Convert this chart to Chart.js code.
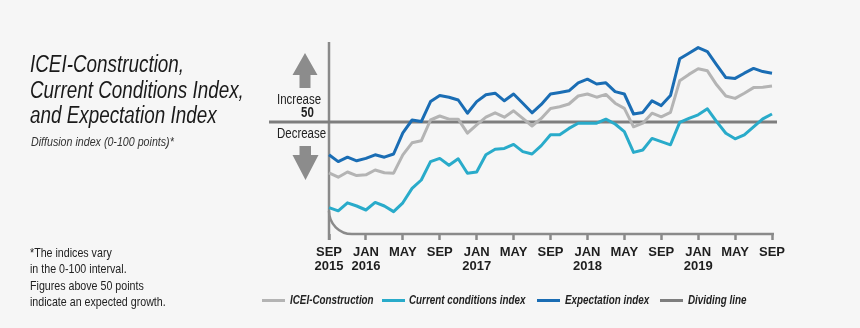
<!DOCTYPE html>
<html>
<head>
<meta charset="utf-8">
<script src="https://cdn.jsdelivr.net/npm/chart.js@4.4.1/dist/chart.umd.min.js"></script>
<style>
  html, body { margin: 0; padding: 0; background: #f6f6f6; }
  #wrap { position: relative; width: 860px; height: 328px; overflow: hidden;
          font-family: "Liberation Sans", Arial, sans-serif; color: #1e1e1e; }
  #chart { position: absolute; left: 0; top: 0; }
  /* narrow look: Liberation Sans squeezed like Arial Narrow */
  .t { position: absolute; white-space: nowrap; transform: scaleX(0.82); transform-origin: 0 0; }
  #title { left: 30px; top: 52px; font-size: 23px; line-height: 25.5px; font-style: italic; color: #1a1a1a; }
  #sub { left: 31px; top: 135px; font-size: 13px; line-height: 13px; font-style: italic; color: #333; }
  #note { left: 30px; top: 245px; font-size: 13px; line-height: 16.3px; color: #222; }
  .side { font-size: 14px; line-height: 14px; color: #222; }
  .lg { font-size: 12px; line-height: 12px; font-weight: bold; font-style: italic; color: #222; top: 294px; }
  .sw { position: absolute; width: 23px; height: 3px; top: 298.5px; }
</style>
</head>
<body>
<div id="wrap">
  <canvas id="chart" width="860" height="328"></canvas>
  <div class="t" id="title">ICEI-Construction,<br>Current Conditions Index,<br>and Expectation Index</div>
  <div class="t" id="sub">Diffusion index (0-100 points)*</div>
  <div class="t" id="note">*The indices vary<br>in the 0-100 interval.<br>Figures above 50 points<br>indicate an expected growth.</div>
  <div class="t side" style="left:277px; top:91.5px;">Increase</div>
  <div class="t side" style="left:300.5px; top:105px; font-weight:bold;">50</div>
  <div class="t side" style="left:277px; top:126px;">Decrease</div>
  <div id="legend"></div>
</div>
<script>
// monthly categories, Sep 2015 - Sep 2019
const months = [
  "2015-09","2015-10","2015-11","2015-12",
  "2016-01","2016-02","2016-03","2016-04","2016-05","2016-06","2016-07","2016-08","2016-09","2016-10","2016-11","2016-12",
  "2017-01","2017-02","2017-03","2017-04","2017-05","2017-06","2017-07","2017-08","2017-09","2017-10","2017-11","2017-12",
  "2018-01","2018-02","2018-03","2018-04","2018-05","2018-06","2018-07","2018-08","2018-09","2018-10","2018-11","2018-12",
  "2019-01","2019-02","2019-03","2019-04","2019-05","2019-06","2019-07","2019-08","2019-09"
];

// labelled ticks on the x axis
const tickMonths = ["2015-09","2016-01","2016-05","2016-09","2017-01","2017-05","2017-09",
                    "2018-01","2018-05","2018-09","2019-01","2019-05","2019-09"];
const tickLabels = [["SEP","2015"],["JAN","2016"],["MAY"],["SEP"],["JAN","2017"],["MAY"],["SEP"],
                    ["JAN","2018"],["MAY"],["SEP"],["JAN","2019"],["MAY"],["SEP"]];

const iceiConstruction = [
  37.3, 36.2, 37.5, 36.6, 36.8, 38.0, 37.3, 37.2, 41.8, 44.8, 45.3, 50.5, 51.5, 50.7, 50.7, 47.2,
  49.3, 51.2, 52.3, 51.2, 52.8, 50.9, 49.0, 50.9, 53.4, 53.8, 54.5, 56.5,
  57.0, 56.2, 56.9, 54.7, 53.4, 48.8, 49.7, 52.2, 51.3, 52.4, 60.3, 61.9,
  63.3, 62.8, 59.3, 56.5, 55.9, 57.2, 58.6, 58.7, 59.0
];
const currentConditions = [
  28.6, 27.8, 29.8, 29.0, 28.0, 29.9, 29.0, 27.6, 29.8, 33.4, 35.5, 40.1, 40.9, 39.2, 40.8, 37.2,
  37.5, 41.8, 43.2, 43.4, 44.4, 42.6, 42.0, 44.1, 46.8, 46.8, 48.4, 49.7,
  49.7, 49.7, 50.7, 49.5, 47.6, 42.4, 43.0, 45.9, 45.1, 44.3, 49.9, 50.9,
  51.8, 53.3, 50.1, 47.2, 45.8, 46.8, 48.8, 50.8, 52.0
];
const expectation = [
  41.8, 40.1, 41.2, 40.3, 40.9, 41.8, 41.2, 42.0, 47.3, 50.5, 50.1, 55.1, 56.6, 56.2, 55.5, 52.2,
  55.1, 56.8, 57.2, 55.3, 57.0, 54.7, 52.3, 54.4, 57.0, 57.4, 57.8, 59.8,
  60.7, 59.5, 59.8, 57.6, 57.0, 52.0, 52.4, 55.3, 54.1, 56.6, 65.8, 67.2,
  68.6, 67.6, 64.3, 61.1, 60.9, 62.2, 63.4, 62.6, 62.2
];
const dividingValue = 50;

const colors = {
  icei: "#b4b4b4",
  current: "#29abca",
  expectation: "#1a6db4",
  dividing: "#7e7e7e",
  axis: "#8a8a8a"
};

const legendItems = [
  { label: "ICEI-Construction", color: colors.icei, swatchX: 262, textX: 290 },
  { label: "Current conditions index", color: colors.current, swatchX: 382, textX: 409 },
  { label: "Expectation index", color: colors.expectation, swatchX: 537, textX: 565 },
  { label: "Dividing line", color: colors.dividing, swatchX: 660, textX: 688 }
];

// legend as html
const legendEl = document.getElementById("legend");
legendItems.forEach(item => {
  const sw = document.createElement("div");
  sw.className = "sw";
  sw.style.left = item.swatchX + "px";
  sw.style.background = item.color;
  legendEl.appendChild(sw);
  const txt = document.createElement("div");
  txt.className = "t lg";
  txt.style.left = item.textX + "px";
  txt.textContent = item.label;
  legendEl.appendChild(txt);
});

// axes, dividing line and arrows
const decorPlugin = {
  id: "decor",
  beforeDatasetsDraw(chart) {
    const { ctx, chartArea } = chart;
    const y50 = chart.scales.y.getPixelForValue(dividingValue);
    const left = chartArea.left, bottom = chartArea.bottom;
    ctx.save();
    ctx.lineCap = "butt";

    // vertical axis
    ctx.strokeStyle = colors.axis;
    ctx.lineWidth = 2.5;
    ctx.beginPath();
    ctx.moveTo(left, chartArea.top);
    ctx.lineTo(left, bottom + 6);
    ctx.stroke();

    // rounded corner and bottom axis line
    const r = 23;
    ctx.beginPath();
    ctx.moveTo(left, bottom - r);
    ctx.arc(left + r, bottom - r, r, Math.PI, Math.PI / 2, true);
    ctx.lineTo(chartArea.right + 2, bottom);
    ctx.stroke();

    // dividing line at 50
    ctx.strokeStyle = colors.dividing;
    ctx.lineWidth = 3;
    ctx.beginPath();
    ctx.moveTo(269, y50);
    ctx.lineTo(chartArea.right + 5, y50);
    ctx.stroke();

    // arrows
    ctx.fillStyle = "#8c8c8c";
    ctx.beginPath();
    ctx.moveTo(305, 53);
    ctx.lineTo(317.5, 75);
    ctx.lineTo(310.5, 75);
    ctx.lineTo(310.5, 88);
    ctx.lineTo(299.5, 88);
    ctx.lineTo(299.5, 75);
    ctx.lineTo(292.5, 75);
    ctx.closePath();
    ctx.fill();

    ctx.beginPath();
    ctx.moveTo(299.5, 146);
    ctx.lineTo(311, 146);
    ctx.lineTo(311, 155);
    ctx.lineTo(318.5, 155);
    ctx.lineTo(305.5, 180);
    ctx.lineTo(292.5, 155);
    ctx.lineTo(299.5, 155);
    ctx.closePath();
    ctx.fill();
    ctx.restore();
  }
};

const lineStyle = { borderWidth: 3, pointRadius: 0, tension: 0, borderJoinStyle: "round", fill: false };

new Chart(document.getElementById("chart").getContext("2d"), {
  type: "line",
  data: {
    labels: months,
    datasets: [
      { label: "ICEI-Construction", data: iceiConstruction, borderColor: colors.icei, ...lineStyle },
      { label: "Current conditions index", data: currentConditions, borderColor: colors.current, ...lineStyle },
      { label: "Expectation index", data: expectation, borderColor: colors.expectation, ...lineStyle }
    ]
  },
  options: {
    responsive: false,
    animation: false,
    events: [],
    layout: { padding: { left: 329, right: 88, top: 42, bottom: 54 } },
    plugins: { legend: { display: false }, tooltip: { enabled: false } },
    scales: {
      x: {
        type: "category",
        offset: false,
        border: { display: false },
        grid: {
          display: true,
          drawOnChartArea: false,
          drawTicks: true,
          tickLength: 6,
          tickWidth: 2.5,
          tickColor: colors.axis
        },
        ticks: {
          autoSkip: false,
          maxRotation: 0,
          padding: 5,
          color: "#1e1e1e",
          font: { family: "'Liberation Sans', Arial, sans-serif", size: 13, weight: "bold", lineHeight: 1.08 },
          callback(value) {
            const idx = tickMonths.indexOf(months[value]);
            return idx >= 0 ? tickLabels[idx] : null;
          }
        },
        afterFit(scale) { scale.height = 40; }
      },
      y: { display: false, min: 22, max: 70 }
    }
  },
  plugins: [decorPlugin]
});
</script>
</body>
</html>
